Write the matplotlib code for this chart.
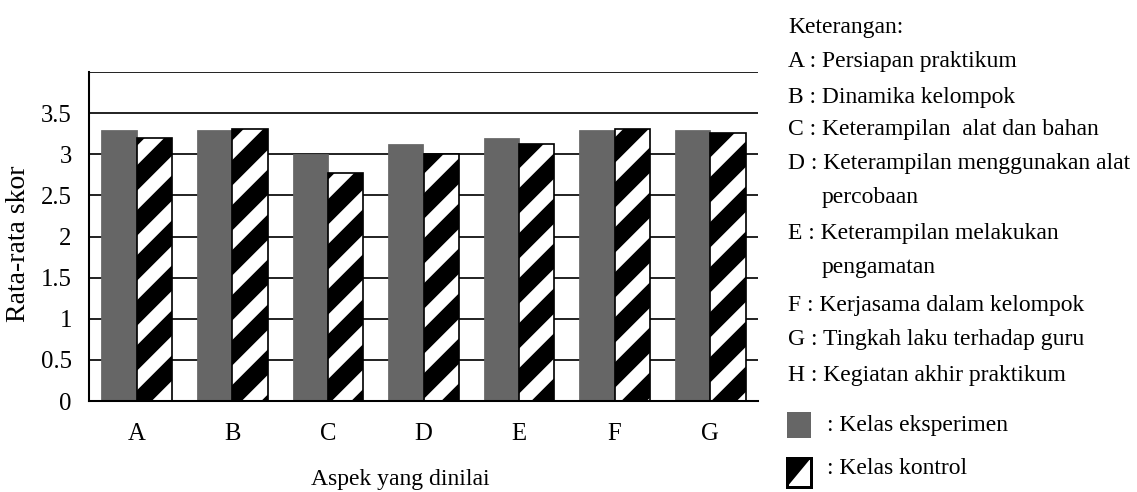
import numpy as np
import matplotlib
matplotlib.use("Agg")
import matplotlib.pyplot as plt
from matplotlib.patches import Rectangle, Polygon

# ---- data ----
categories = ["A", "B", "C", "D", "E", "F", "G"]
eksperimen = [3.30, 3.30, 3.00, 3.12, 3.20, 3.30, 3.30]
kontrol = [3.20, 3.31, 2.77, 3.00, 3.13, 3.31, 3.26]
yticks = [0, 0.5, 1, 1.5, 2, 2.5, 3, 3.5]
ytick_labels = ["0", "0.5", "1", "1.5", "2", "2.5", "3", "3.5"]
keterangan = [
    ("Keterangan:", 28, 788),
    ("A : Persiapan praktikum", 62, 788),
    ("B : Dinamika kelompok", 97, 788),
    ("C : Keterampilan  alat dan bahan", 130, 788),
    ("D : Keterampilan menggunakan alat", 163, 788),
    ("percobaan", 198, 822),
    ("E : Keterampilan melakukan", 233, 788),
    ("pengamatan", 267, 822),
    ("F : Kerjasama dalam kelompok", 305, 788),
    ("G : Tingkah laku terhadap guru", 340, 788),
    ("H : Kegiatan akhir praktikum", 375, 788),
]
series_labels = [": Kelas eksperimen", ": Kelas kontrol"]

W, H, DPI = 1137, 492, 270
plt.rcParams["font.family"] = ["Liberation Serif", "DejaVu Serif"]
plt.rcParams["hatch.linewidth"] = 4.8
plt.rcParams["hatch.color"] = "black"
FS = 6.3

fig = plt.figure(figsize=(W / DPI, H / DPI), dpi=DPI)
fig.patch.set_facecolor("white")

def fx(px):
    return px / W

def fy(py):
    return 1 - py / H

ax = fig.add_axes([fx(89), fy(401), fx(758) - fx(89), fy(72) - fy(401)])

x = np.arange(len(categories))
w = 0.37
gray = "#666666"
lw = 0.45

ax.bar(x - w, eksperimen, width=w, align="edge", color=gray, edgecolor=gray,
       linewidth=0.2, zorder=3)
ax.bar(x, kontrol, width=w, align="edge", facecolor="white", edgecolor="black",
       hatch="//", linewidth=lw, zorder=3)

ax.set_xlim(-0.5, len(categories) - 0.5)
ax.set_ylim(0, 4)
ax.set_yticks(yticks)
ax.set_yticklabels(ytick_labels)
ax.set_xticks(x)
ax.set_xticklabels(categories)

for yv in yticks[1:] + [4]:
    ax.axhline(yv, color="black", linewidth=0.45, zorder=1)

for s in ["top", "right"]:
    ax.spines[s].set_visible(False)
for s in ["left", "bottom"]:
    ax.spines[s].set_linewidth(0.55)
    ax.spines[s].set_zorder(4)

ax.tick_params(axis="both", length=0, labelsize=FS + 0.3, colors="black")
ax.tick_params(axis="y", pad=4.6)
ax.tick_params(axis="x", pad=6.0)

# axis labels
fig.text(fx(400), fy(480), "Aspek yang dinilai", ha="center", va="center", fontsize=FS)
fig.text(fx(19), fy(244), "Rata-rata skor", ha="center", va="center",
         rotation=90, fontsize=7.4)

# keterangan block
for txt, yc, xl in keterangan:
    fig.text(fx(xl), fy(yc), txt, ha="left", va="center", fontsize=FS)

# legend swatches
sw_x0, sw_x1 = fx(787), fx(811)
fig.patches.append(Rectangle((sw_x0, fy(438)), sw_x1 - sw_x0, fy(412) - fy(438),
                             transform=fig.transFigure, facecolor=gray,
                             edgecolor="none", figure=fig))
y0, y1 = fy(487), fy(458)
fig.patches.append(Rectangle((sw_x0, y0), sw_x1 - sw_x0, y1 - y0,
                             transform=fig.transFigure, facecolor="white",
                             edgecolor="none", figure=fig))
fig.patches.append(Polygon([(sw_x0, y0), (sw_x0, y1), (sw_x1, y1)], closed=True,
                           transform=fig.transFigure, facecolor="black",
                           edgecolor="none", figure=fig))
fig.patches.append(Rectangle((sw_x0, y0), sw_x1 - sw_x0, y1 - y0,
                             transform=fig.transFigure, facecolor="none",
                             edgecolor="black", linewidth=0.8, figure=fig))
fig.text(fx(827), fy(425), series_labels[0], ha="left", va="center", fontsize=FS)
fig.text(fx(827), fy(469), series_labels[1], ha="left", va="center", fontsize=FS)

fig.savefig("out.png", dpi=DPI, facecolor="white")
